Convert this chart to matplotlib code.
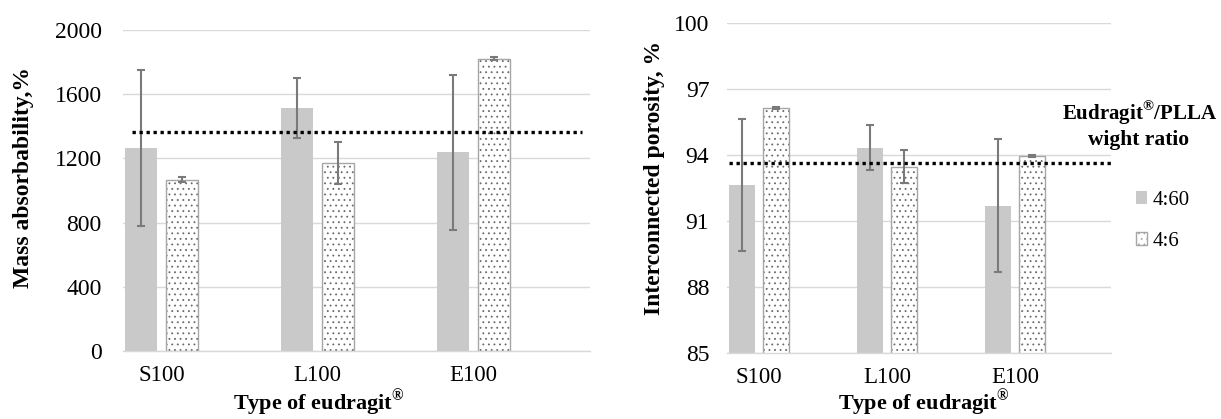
import matplotlib
matplotlib.use("Agg")
import matplotlib.pyplot as plt
import numpy as np
from matplotlib.patches import Patch

# ---------------- data ----------------
categories = ["S100", "L100", "E100"]
series_labels = ["4:60", "4:6"]

mass_460 = [1267, 1516, 1238]
mass_460_err = [486, 188, 482]
mass_46 = [1067, 1173, 1821]
mass_46_err = [17, 132, 8]
mass_ref = 1362

por_460 = [92.62, 94.32, 91.68]
por_460_err = [3.0, 1.02, 3.02]
por_46 = [96.12, 93.45, 93.95]
por_46_err = [0.03, 0.75, 0.05]
por_ref = 93.64

mass_ticks = [0, 400, 800, 1200, 1600, 2000]
por_ticks = [85, 88, 91, 94, 97, 100]

# ---------------- style ----------------
plt.rcParams["font.family"] = ["Liberation Serif", "DejaVu Serif"]
plt.rcParams["mathtext.fontset"] = "custom"
plt.rcParams["mathtext.rm"] = "Liberation Serif"
plt.rcParams["mathtext.bf"] = "Liberation Serif:bold"
plt.rcParams["hatch.linewidth"] = 0.6

GRAY = "#c9c9c9"
EDGE = "#a6a6a6"
DOTS = "#6a6a6a"
ERR = "#7a7a7a"
GRID = "#d9d9d9"

W, H = 1221, 419
fig = plt.figure(figsize=(W / 100, H / 100), dpi=100)


def px_axes(x0, x1, ytop, ybot):
    return fig.add_axes([x0 / W, 1 - ybot / H, (x1 - x0) / W, (ybot - ytop) / H])


ax1 = px_axes(122.7, 590, 30, 351)
ax2 = px_axes(726.7, 1111, 22.7, 352.7)

x = np.arange(len(categories))
bw = 0.205
off = 0.132
XLABEL = "Type of eudragit$^{\\mathbf{\u00ae}}$"


def draw(ax, v1, e1, v2, e2, ref, ticks, ylabel, ytick_pad, ref_span, xl_pos, yl_pos):
    ax.bar(x - off, v1, bw, color=GRAY, linewidth=0, zorder=2)
    ax.bar(x + off, v2, bw, color="white", edgecolor=DOTS, hatch="...", linewidth=0, zorder=2)
    ax.bar(x + off, v2, bw, fill=False, edgecolor=EDGE, linewidth=1.0, zorder=2.1)
    ax.errorbar(x - off, v1, yerr=e1, fmt="none", ecolor=ERR, elinewidth=1.5,
                capsize=3.0, capthick=1.5, zorder=3)
    ax.errorbar(x + off, v2, yerr=e2, fmt="none", ecolor=ERR, elinewidth=1.5,
                capsize=3.0, capthick=1.5, zorder=3)
    ax.axhline(ref, xmin=ref_span[0], xmax=ref_span[1], color="black", lw=2.4,
               linestyle=(0, (1, 1.1)), dash_capstyle="butt", zorder=4)

    ax.set_xlim(-0.25, 2.75)
    ax.set_ylim(ticks[0], ticks[-1])
    ax.set_yticks(ticks)
    ax.set_xticks(x)
    ax.set_xticklabels(categories)
    ax.tick_params(axis="both", length=0, labelsize=17, colors="black")
    ax.tick_params(axis="x", labelsize=16.5, pad=10)
    ax.tick_params(axis="y", pad=ytick_pad)
    ax.grid(axis="y", color=GRID, lw=1.0, zorder=0)
    ax.set_axisbelow(True)
    for s in ["top", "right", "left"]:
        ax.spines[s].set_visible(False)
    ax.spines["bottom"].set_color(GRID)
    ax.spines["bottom"].set_linewidth(1.0)

    ax.set_xlabel(XLABEL, fontsize=16, fontweight="bold")
    ax.set_ylabel(ylabel, fontsize=17, fontweight="bold")
    ax.xaxis.set_label_coords(*xl_pos)
    ax.xaxis.label.set_va("center")
    ax.yaxis.set_label_coords(*yl_pos)
    ax.yaxis.label.set_va("center")


draw(ax1, mass_460, mass_460_err, mass_46, mass_46_err, mass_ref, mass_ticks,
     "Mass absorbability,%", 15, (0.019, 0.982), (0.42, -0.162), (-0.213, 0.54))
draw(ax2, por_460, por_460_err, por_46, por_46_err, por_ref, por_ticks,
     "Interconnected porosity, %", 12.5, (0.006, 1.0), (0.513, -0.152), (-0.187, 0.529))

# ---------------- legend ----------------
fig.text(1140 / W, 1 - 113 / H, "Eudragit$^{\\mathbf{\u00ae}}$/PLLA",
         ha="center", va="center", fontsize=15, fontweight="bold")
fig.text(1139 / W, 1 - 140 / H, "wight ratio",
         ha="center", va="center", fontsize=15.5, fontweight="bold")

h1 = Patch(facecolor=GRAY, edgecolor="none", label=series_labels[0])
h2 = Patch(facecolor="white", edgecolor=EDGE, hatch="...", label=series_labels[1])
leg = fig.legend(handles=[h1, h2], loc="upper left",
                 bbox_to_anchor=(1136 / W, 1 - 191 / H),
                 frameon=False, fontsize=15, handlelength=0.55, handleheight=0.55,
                 handletextpad=0.25, labelspacing=1.05, borderpad=0, borderaxespad=0)

fig.savefig("out.png", dpi=100)
